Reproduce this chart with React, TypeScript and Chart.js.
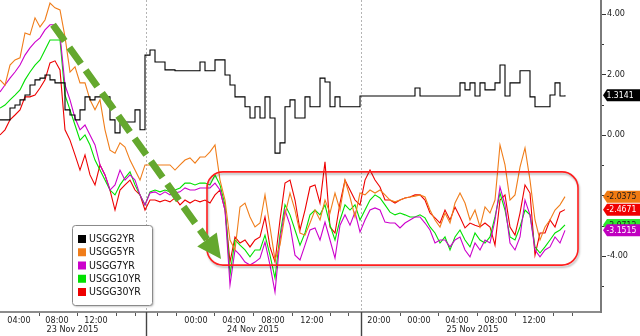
import React, { useEffect, useRef } from 'react';
import { Chart, registerables } from 'chart.js';

Chart.register(...registerables);

const FONT = "'DejaVu Sans Condensed', 'Liberation Sans Narrow', 'DejaVu Sans', sans-serif";

const SERIES_NAMES = ['USGG2YR', 'USGG5YR', 'USGG7YR', 'USGG10YR', 'USGG30YR'];
const LINE_COLORS = ['#000000', '#f07d1a', '#cc00cc', '#00e000', '#ee0000'];
const TAG_BG = ['#000000', '#f07a12', '#c000c0', '#2ee82e', '#f00000'];
const TAG_FG = ['#ffffff', '#1a1a1a', '#ffffff', '#1a1a1a', '#ffffff'];

const USGG2YR = [0.50, 0.50, 0.89, 0.99, 1.16, 1.32, 1.65, 1.82, 1.88, 1.98,
  1.82, 1.72, 1.72, 0.83, 0.66, 0.50, 0.83, 1.26, 1.16, 1.26,
  1.26, 1.26, 0.50, 0.07, 0.43, 0.43, 0.43, 0.83, 0.17, 2.64,
  2.81, 2.41, 2.41, 2.15, 2.15, 2.12, 2.12, 2.12, 2.12, 2.12,
  2.41, 2.12, 2.12, 2.48, 2.48, 1.98, 1.65, 1.26, 1.26, 0.93,
  0.56, 0.93, 0.56, 1.26, 0.56, -0.60, -0.26, 0.93, 1.16, 0.56,
  0.56, 1.26, 0.93, 0.93, 1.88, 1.75, 0.93, 1.26, 0.93, 0.93,
  0.93, 0.93, 1.29, 1.29, 1.29, 1.29, 1.29, 1.29, 1.29, 1.29,
  1.29, 1.29, 1.29, 1.55, 1.29, 1.29, 1.29, 1.29, 1.29, 1.29,
  1.29, 1.29, 1.72, 1.49, 1.72, 1.29, 1.72, 1.49, 1.49, 1.72,
  2.31, 1.29, 1.72, 1.72, 2.12, 2.12, 1.26, 0.93, 0.93, 0.93,
  1.32, 1.72, 1.29, 1.3141];

const USGG5YR = [1.82, 1.65, 2.31, 2.48, 2.55, 3.37, 3.31, 3.87, 3.57, 3.80,
  4.36, 4.20, 4.13, 3.24, 2.08, 2.25, 1.72, 1.72, 1.16, 0.83,
  1.16, 0.17, -0.50, -0.60, -0.26, -0.40, -0.83, -1.16, -1.49, -0.99,
  -0.99, -0.99, -0.99, -0.99, -0.99, -1.16, -0.99, -0.83, -0.76, -0.93,
  -0.73, -0.73, -0.56, -0.33, -1.49, -2.15, -3.47, -3.80, -2.38, -2.25,
  -2.71, -3.04, -2.91, -1.98, -3.04, -4.13, -3.64, -2.64, -1.92, -2.48,
  -3.24, -3.31, -2.91, -2.48, -2.81, -2.15, -2.58, -1.92, -2.48, -1.49,
  -2.05, -2.71, -1.92, -1.98, -1.82, -1.92, -1.82, -1.98, -2.15, -2.21,
  -2.15, -2.08, -2.05, -2.02, -1.98, -2.05, -2.48, -2.81, -3.04, -2.58,
  -2.91, -2.25, -1.92, -2.25, -2.81, -2.48, -3.04, -2.38, -2.58, -2.15,
  -0.33, -0.99, -2.15, -1.98, -1.06, -0.43, -1.49, -2.81, -3.47, -3.04,
  -2.81, -2.48, -2.31, -2.0375];

const USGG7YR = [1.42, 1.65, 1.88, 2.08, 2.31, 2.64, 2.88, 3.07, 3.21, 3.47,
  3.64, 3.64, 3.31, 1.65, 1.16, 0.56, 0.17, 0.33, 0.00, -0.33,
  -0.99, -1.32, -1.82, -1.65, -1.16, -1.49, -1.32, -1.49, -1.98, -2.31,
  -1.92, -1.88, -1.98, -1.88, -1.98, -1.92, -1.88, -1.75, -1.82, -1.82,
  -1.75, -1.75, -1.75, -1.59, -1.82, -2.48, -4.96, -3.80, -3.97, -4.20,
  -4.30, -4.20, -4.07, -3.54, -4.30, -5.19, -3.47, -2.48, -2.98, -3.97,
  -4.13, -3.64, -3.14, -3.07, -3.47, -2.88, -3.47, -4.07, -2.98, -2.64,
  -2.98, -2.55, -3.21, -2.81, -2.48, -2.41, -2.48, -2.88, -2.91, -2.91,
  -3.07, -2.91, -2.81, -2.71, -2.71, -2.91, -3.14, -3.57, -3.47, -3.47,
  -3.70, -3.47, -3.37, -3.80, -4.03, -3.57, -3.80, -3.47, -3.57, -2.81,
  -1.72, -2.31, -3.57, -3.80, -3.37, -2.15, -2.64, -3.80, -4.03, -3.80,
  -3.70, -3.37, -3.57, -3.1515];

const USGG10YR = [0.89, 0.99, 1.16, 1.32, 1.49, 1.82, 2.08, 2.31, 2.48, 2.81,
  3.14, 3.14, 3.14, 1.32, 0.83, 0.33, -0.17, 0.00, -0.33, -0.83,
  -1.16, -1.49, -1.82, -1.98, -1.65, -1.42, -1.22, -1.65, -1.98, -2.31,
  -1.88, -1.82, -1.88, -1.82, -1.88, -1.82, -1.75, -1.59, -1.59, -1.65,
  -1.59, -1.59, -1.65, -1.32, -1.65, -2.31, -4.63, -3.47, -3.64, -3.80,
  -4.03, -3.80, -3.80, -3.31, -3.97, -4.73, -3.31, -2.31, -2.64, -3.14,
  -3.64, -3.24, -2.64, -2.48, -2.64, -2.31, -2.98, -3.47, -2.81, -2.31,
  -2.48, -2.31, -2.81, -2.48, -2.15, -1.98, -2.08, -2.31, -2.55, -2.64,
  -2.58, -2.64, -2.71, -2.71, -2.64, -2.74, -3.04, -3.24, -3.57, -3.37,
  -3.80, -3.37, -3.14, -3.47, -3.70, -3.24, -3.47, -3.57, -3.37, -2.71,
  -1.92, -2.48, -3.37, -3.47, -3.04, -2.48, -2.64, -3.70, -3.90, -3.70,
  -3.47, -3.24, -3.14, -2.9712];

const USGG30YR = [0.00, 0.17, 0.50, 0.66, 0.83, 1.26, 1.26, 1.32, 1.55, 1.82,
  2.38, 2.45, 2.15, 0.17, -0.17, -0.66, -1.16, -0.66, -1.32, -1.65,
  -0.99, -1.32, -1.82, -2.48, -1.82, -1.65, -1.49, -1.82, -1.98, -2.48,
  -2.15, -2.15, -2.21, -2.15, -2.21, -2.08, -2.31, -2.15, -2.25, -2.15,
  -2.21, -2.15, -2.25, -1.98, -1.82, -2.48, -4.20, -3.37, -3.57, -3.47,
  -3.70, -3.47, -3.37, -2.71, -3.70, -4.20, -2.81, -1.59, -1.49, -2.15,
  -3.14, -2.48, -1.72, -1.65, -2.25, -0.89, -3.04, -3.24, -2.25, -1.49,
  -1.82, -2.15, -2.31, -1.49, -1.16, -1.49, -1.72, -2.15, -2.15, -2.25,
  -2.15, -2.08, -2.05, -1.98, -1.98, -2.15, -2.58, -2.74, -2.91, -2.48,
  -2.81, -2.38, -2.71, -3.07, -2.91, -2.98, -3.04, -2.91, -3.04, -3.64,
  -2.15, -1.98, -3.04, -3.31, -2.58, -1.65, -1.92, -3.97, -3.24, -3.24,
  -2.81, -3.04, -2.55, -2.4671];

const SERIES = [USGG2YR, USGG5YR, USGG7YR, USGG10YR, USGG30YR];
const X_INDEX = USGG2YR.map((_, i) => i);
const X_MAX = 120.2;

const HOUR_TICKS = [3.8, 11.4, 19.2, 39.2, 46.8, 54.6, 62.4, 75.8, 83.8, 91.4, 99.2, 106.8];
const HOUR_LABELS = ['04:00', '08:00', '12:00', '00:00', '04:00', '08:00', '12:00', '20:00', '00:00', '04:00', '08:00', '12:00'];
const DATE_TICKS = [14.5, 50.6, 94.5];
const DATE_LABELS = ['23 Nov 2015', '24 Nov 2015', '25 Nov 2015'];
const DAY_BREAKS = [29.2, 72.2];
const MINOR_TICKS = [7.8, 15.4, 23.2, 27, 31.4, 35.2, 42.8, 50.6, 58.4, 66, 69.6, 80, 87.6, 95.4, 103, 110.6, 114.4];
const Y_TICKS = [-5, -4, -3, -2, -1, 0, 1, 2, 3, 4];
const Y_MIN = -5.85;
const Y_MAX = 4.46;

// annotation anchors (x index, value)
const ARROW_FROM = [10.6, 3.64];
const ARROW_TO = [44.2, -4.1];
const BOX_X = [41.4, 115.6];
const BOX_Y = [-1.22, -4.3];

function roundRectPath(ctx: CanvasRenderingContext2D, x: number, y: number, w: number, h: number, r: number) {
  ctx.beginPath();
  ctx.moveTo(x + r, y);
  ctx.lineTo(x + w - r, y);
  ctx.arcTo(x + w, y, x + w, y + r, r);
  ctx.lineTo(x + w, y + h - r);
  ctx.arcTo(x + w, y + h, x + w - r, y + h, r);
  ctx.lineTo(x + r, y + h);
  ctx.arcTo(x, y + h, x, y + h - r, r);
  ctx.lineTo(x, y + r);
  ctx.arcTo(x, y, x + r, y, r);
  ctx.closePath();
}

const decorations = {
  id: 'decorations',
  beforeDatasetsDraw(chart: any) {
    const { ctx, chartArea, scales } = chart;
    ctx.save();
    ctx.strokeStyle = '#b4b4b4';
    ctx.lineWidth = 1;
    ctx.setLineDash([2, 2]);
    DAY_BREAKS.forEach((v) => {
      const x = Math.round(scales.x.getPixelForValue(v)) + 0.5;
      ctx.beginPath();
      ctx.moveTo(x, chartArea.top);
      ctx.lineTo(x, chartArea.bottom);
      ctx.stroke();
    });
    ctx.restore();
  },
  afterDatasetsDraw(chart: any) {
    const { ctx, scales } = chart;
    const sx = (v: number) => scales.x.getPixelForValue(v);
    const sy = (v: number) => scales.y.getPixelForValue(v);
    // red rounded box
    ctx.save();
    const bx0 = sx(BOX_X[0]);
    const bx1 = sx(BOX_X[1]);
    const by0 = sy(BOX_Y[0]);
    const by1 = sy(BOX_Y[1]);
    ctx.shadowColor = 'rgba(0,0,0,0.28)';
    ctx.shadowOffsetX = 1;
    ctx.shadowOffsetY = 2;
    ctx.shadowBlur = 2;
    roundRectPath(ctx, bx0, by0, bx1 - bx0, by1 - by0, 16);
    ctx.strokeStyle = '#ff1f1f';
    ctx.lineWidth = 1.6;
    ctx.stroke();
    ctx.restore();

    // green dashed arrow
    ctx.save();
    const x1 = sx(ARROW_FROM[0]);
    const y1 = sy(ARROW_FROM[1]);
    const x2 = sx(ARROW_TO[0]);
    const y2 = sy(ARROW_TO[1]);
    const dx = x2 - x1;
    const dy = y2 - y1;
    const len = Math.hypot(dx, dy);
    const ux = dx / len;
    const uy = dy / len;
    const headLen = 24;
    const headW = 12;
    const hx = x2 - ux * headLen;
    const hy = y2 - uy * headLen;
    ctx.strokeStyle = '#64a82e';
    ctx.fillStyle = '#64a82e';
    ctx.lineWidth = 7;
    ctx.lineCap = 'butt';
    ctx.setLineDash([20, 8]);
    ctx.beginPath();
    ctx.moveTo(x1, y1);
    ctx.lineTo(hx, hy);
    ctx.stroke();
    ctx.setLineDash([]);
    ctx.beginPath();
    ctx.moveTo(x2, y2);
    ctx.lineTo(hx - uy * headW, hy + ux * headW);
    ctx.lineTo(hx + uy * headW, hy - ux * headW);
    ctx.closePath();
    ctx.fill();
    ctx.restore();
  },
  afterDraw(chart: any) {
    const { ctx, chartArea, scales } = chart;
    const H = chart.height;
    const W = chart.width;
    ctx.save();
    // x minor ticks
    ctx.strokeStyle = '#555';
    ctx.lineWidth = 1;
    MINOR_TICKS.forEach((v) => {
      const x = Math.round(scales.x.getPixelForValue(v)) + 0.5;
      ctx.beginPath();
      ctx.moveTo(x, chartArea.bottom + 1);
      ctx.lineTo(x, chartArea.bottom + 4);
      ctx.stroke();
    });
    // day dividers under the axis
    ctx.strokeStyle = '#444';
    ctx.lineWidth = 1.4;
    DAY_BREAKS.forEach((v) => {
      const x = Math.round(scales.x.getPixelForValue(v)) + 0.5;
      ctx.beginPath();
      ctx.moveTo(x, chartArea.bottom);
      ctx.lineTo(x, H);
      ctx.stroke();
    });
    // y tick marks
    ctx.strokeStyle = '#333';
    ctx.lineWidth = 1;
    Y_TICKS.forEach((v) => {
      const y = Math.round(scales.y.getPixelForValue(v)) + 0.5;
      ctx.beginPath();
      ctx.moveTo(chartArea.right + 1, y);
      ctx.lineTo(chartArea.right + (v % 2 === 0 ? 5 : 3), y);
      ctx.stroke();
    });

    // legend
    const lx = 72.5;
    const ly = 225.5;
    const lw = 80;
    const lh = 80;
    ctx.save();
    ctx.shadowColor = 'rgba(0,0,0,0.3)';
    ctx.shadowOffsetX = 1;
    ctx.shadowOffsetY = 1;
    ctx.shadowBlur = 2;
    roundRectPath(ctx, lx, ly, lw, lh, 3);
    ctx.fillStyle = '#ffffff';
    ctx.fill();
    ctx.restore();
    roundRectPath(ctx, lx, ly, lw, lh, 3);
    ctx.strokeStyle = '#8a8a8a';
    ctx.lineWidth = 1;
    ctx.stroke();
    ctx.font = `10.5px ${FONT}`;
    ctx.textBaseline = 'middle';
    ctx.textAlign = 'left';
    chart.data.datasets.forEach((ds: any, i: number) => {
      const cy = ly + 13.5 + i * 13.25;
      ctx.fillStyle = ds.borderColor;
      ctx.fillRect(lx + 5.5, cy - 4, 8, 8);
      ctx.fillStyle = '#111';
      ctx.fillText(ds.label, lx + 16.5, cy + 0.5);
    });

    // last value tags (drawn in reverse so that earlier series sit on top)
    ctx.font = `8.6px ${FONT}`;
    for (let i = chart.data.datasets.length - 1; i >= 0; i--) {
      const values = chart.data.datasets[i].data;
      const last = values[values.length - 1];
      const cy = scales.y.getPixelForValue(last);
      const x0 = chartArea.right + 2;
      ctx.beginPath();
      ctx.moveTo(x0, cy);
      ctx.lineTo(x0 + 4, cy - 6);
      ctx.lineTo(W, cy - 6);
      ctx.lineTo(W, cy + 6);
      ctx.lineTo(x0 + 4, cy + 6);
      ctx.closePath();
      ctx.fillStyle = TAG_BG[i];
      ctx.fill();
      ctx.fillStyle = TAG_FG[i];
      ctx.textBaseline = 'middle';
      ctx.fillText(Number(last).toFixed(4), x0 + 3.5, cy + 0.5);
    }
    ctx.restore();
  },
};

export default function App() {
  const canvasRef = useRef<HTMLCanvasElement | null>(null);

  useEffect(() => {
    if (!canvasRef.current) return;
    Chart.defaults.font.family = FONT;
    const datasets = SERIES.map((data, i) => ({
      label: SERIES_NAMES[i],
      data,
      borderColor: LINE_COLORS[i],
      backgroundColor: LINE_COLORS[i],
      borderWidth: 1.1,
      pointRadius: 0,
      tension: 0,
      stepped: i === 0 ? true : false,
      fill: false,
    }));
    const tickFont = { family: FONT, size: 9 };
    const chart = new Chart(canvasRef.current, {
      type: 'line',
      data: { labels: X_INDEX, datasets },
      options: {
        animation: false,
        responsive: false,
        maintainAspectRatio: false,
        layout: { padding: 0 },
        plugins: { legend: { display: false }, tooltip: { enabled: false } },
        scales: {
          x: {
            type: 'linear',
            position: 'bottom',
            min: 0,
            max: X_MAX,
            grid: { display: false, drawTicks: false },
            border: { display: true, color: '#8c8c8c', width: 2 },
            ticks: {
              autoSkip: false,
              maxRotation: 0,
              minRotation: 0,
              padding: 3,
              font: tickFont,
              color: '#222',
              callback: (_v: any, i: number) => HOUR_LABELS[i] ?? '',
            },
            afterBuildTicks: (s: any) => {
              s.ticks = HOUR_TICKS.map((v) => ({ value: v }));
            },
            afterFit: (s: any) => {
              s.height = 11;
              s.paddingLeft = 0;
              s.paddingRight = 0;
            },
          },
          x2: {
            type: 'linear',
            position: 'bottom',
            min: 0,
            max: X_MAX,
            grid: { display: false, drawTicks: false },
            border: { display: false },
            ticks: {
              autoSkip: false,
              maxRotation: 0,
              minRotation: 0,
              padding: 1,
              font: tickFont,
              color: '#222',
              callback: (_v: any, i: number) => DATE_LABELS[i] ?? '',
            },
            afterBuildTicks: (s: any) => {
              s.ticks = DATE_TICKS.map((v) => ({ value: v }));
            },
            afterFit: (s: any) => {
              s.height = 13;
              s.paddingLeft = 0;
              s.paddingRight = 0;
            },
          },
          y: {
            position: 'right',
            min: Y_MIN,
            max: Y_MAX,
            grid: { display: false, drawTicks: false },
            border: { display: true, color: '#7a7a7a', width: 2 },
            ticks: {
              padding: 6,
              font: tickFont,
              color: '#222',
              callback: (v: any) => (Math.round(Number(v)) % 2 === 0 ? Number(v).toFixed(2) : ''),
            },
            afterBuildTicks: (s: any) => {
              s.ticks = Y_TICKS.map((v) => ({ value: v }));
            },
            afterFit: (s: any) => {
              s.width = 39;
              s.paddingTop = 0;
              s.paddingBottom = 0;
            },
          },
        },
      },
      plugins: [decorations],
    } as any);
    return () => chart.destroy();
  }, []);

  return (
    <div style={{ position: 'absolute', left: 0, top: 0, width: 640, height: 336, background: '#fff' }}>
      <canvas ref={canvasRef} width={640} height={336} style={{ display: 'block', width: 640, height: 336 }} />
    </div>
  );
}
